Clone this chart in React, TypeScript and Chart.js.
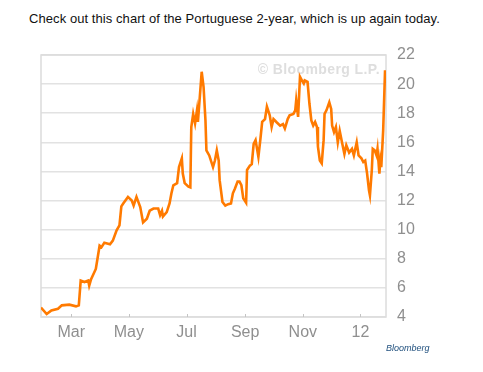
import React, { useEffect, useRef } from "react";
import { Chart, registerables } from "chart.js";

Chart.register(...registerables);

// Portuguese 2-year yield, day offsets from 28 Jan 2011 (day 0) to 28 Jan 2012 (day 365)
const dayOffsets = [
  0, 6, 11, 18, 22, 30, 37, 40, 42, 46, 50, 51, 53, 58, 62, 64, 67, 73, 76, 80, 83, 85, 87, 92, 96, 98,
  101, 105, 108, 112, 115, 119, 124, 126, 128, 129, 133, 136, 138, 140, 144, 146, 149, 150, 152, 156, 158,
  159, 161, 163, 165, 166, 168, 170, 172, 174, 175, 178, 182, 184, 186, 188, 189, 192, 195, 198, 201, 203,
  205, 208, 210, 212, 214, 217, 218, 221, 223, 225, 227, 230, 232, 234, 237, 239, 242, 244, 246, 249, 253,
  256, 258, 261, 263, 267, 269, 270, 272, 274, 276, 278, 279, 282, 284, 286, 288, 290, 292, 293, 295, 297,
  299, 300, 302, 305, 307, 308, 310, 312, 314, 316, 318, 321, 323, 326, 329, 331, 334, 336, 339, 341, 343,
  345, 347, 348, 350, 351, 353, 355, 356, 358, 359, 360, 362, 364,
];
const yieldValues = [
  4.65, 4.2, 4.45, 4.57, 4.8, 4.85, 4.73, 4.8, 6.5, 6.4, 6.5, 6.15, 6.6, 7.3, 8.9, 8.8, 9.1, 9.0, 9.25, 9.95,
  10.3, 11.6, 11.8, 12.25, 12.0, 11.65, 12.25, 11.55, 10.5, 10.75, 11.3, 11.45, 11.45, 11.0, 11.3, 10.9, 11.2,
  11.8, 12.5, 13.05, 13.2, 14.3, 14.9, 13.85, 13.2, 12.95, 12.9, 17.05, 17.95, 17.3, 18.2, 17.4, 19.1, 20.85,
  19.8, 17.5, 15.45, 15.1, 14.3, 14.75, 15.45, 14.75, 13.4, 11.9, 11.65, 11.75, 11.8, 12.5, 12.8, 13.3, 13.3,
  13.05, 12.15, 11.85, 14.1, 14.4, 14.5, 15.9, 16.15, 15.0, 16.15, 17.4, 17.6, 18.45, 17.85, 17.05, 17.6,
  17.4, 17.15, 17.25, 16.95, 17.6, 17.85, 17.95, 18.2, 18.9, 17.75, 20.5, 20.25, 20.05, 20.25, 20.15, 18.65,
  17.5, 17.15, 17.4, 17.05, 15.7, 14.75, 14.55, 16.15, 17.95, 18.2, 18.75, 18.3, 17.15, 16.7, 17.05, 16.0,
  16.8, 16.15, 15.2, 15.8, 15.3, 15.55, 15.1, 16.0, 15.1, 14.9, 14.65, 14.75, 13.85, 12.7, 12.35, 14.1, 15.55,
  15.45, 15.1, 15.55, 13.85, 14.75, 14.3, 16.8, 20.95,
];
const tickDays = [32, 93, 154, 216, 277, 338];
const tickLabels = ["Mar", "May", "Jul", "Sep", "Nov", "12"];
const yMin = 4;
const yMax = 22;
const yStep = 2;

const FONT = "'Liberation Sans', Arial, Helvetica, sans-serif";

const framePlugin = {
  id: "frame",
  beforeDatasetsDraw(chart: any) {
    const { ctx, chartArea: a, scales } = chart;
    ctx.save();
    ctx.strokeStyle = "#dcdcdc";
    ctx.lineWidth = 1.5;
    ctx.strokeRect(a.left, a.top, a.right - a.left, a.bottom - a.top);
    ctx.strokeStyle = "#c4c4c4";
    ctx.lineWidth = 1;
    tickDays.forEach((d) => {
      const x = Math.round(scales.x.getPixelForValue(d)) + 0.5;
      ctx.beginPath();
      ctx.moveTo(x, a.bottom);
      ctx.lineTo(x, a.bottom - 3);
      ctx.stroke();
    });
    ctx.font = `bold 14px ${FONT}`;
    (ctx as any).letterSpacing = "0.4px";
    ctx.fillStyle = "#dedede";
    ctx.textAlign = "right";
    ctx.textBaseline = "middle";
    ctx.fillText("© Bloomberg L.P.", a.right - 6, a.top + 15);
    ctx.restore();
  },
};

export default function App() {
  const ref = useRef<HTMLCanvasElement>(null);
  useEffect(() => {
    if (!ref.current) return;
    const data = dayOffsets.map((d, i) => ({ x: d, y: yieldValues[i] }));
    const chart = new Chart(ref.current, {
      type: "line",
      data: {
        datasets: [
          {
            data,
            borderColor: "#ff7a00",
            borderWidth: 2.6,
            pointRadius: 0,
            tension: 0,
            fill: false,
          },
        ],
      },
      options: {
        animation: false,
        responsive: false,
        events: [],
        plugins: { legend: { display: false }, tooltip: { enabled: false } },
        layout: { padding: { left: 41, top: 55, right: 52, bottom: 30 } },
        scales: {
          x: {
            type: "linear",
            min: 0,
            max: 365,
            grid: { display: false, drawTicks: false },
            border: { display: false },
            afterBuildTicks: (s: any) => {
              s.ticks = tickDays.map((v) => ({ value: v }));
            },
            afterFit: (s: any) => {
              s.height = 25;
            },
            ticks: {
              autoSkip: false,
              maxRotation: 0,
              padding: 6,
              color: "#8f8f8f",
              font: { size: 16, family: FONT },
              callback: (v: any) => tickLabels[tickDays.indexOf(Number(v))] ?? "",
            },
          },
          y: {
            type: "linear",
            position: "right",
            min: yMin,
            max: yMax,
            grid: { color: "#e2e2e2", lineWidth: 1.5, drawTicks: false },
            border: { display: false },
            afterFit: (s: any) => {
              s.width = 45;
            },
            ticks: {
              stepSize: yStep,
              padding: 11,
              color: "#8f8f8f",
              font: { size: 16, family: FONT },
            },
          },
        },
      },
      plugins: [framePlugin],
    });
    return () => chart.destroy();
  }, []);

  return (
    <div style={{ position: "absolute", left: 0, top: 0, width: 483, height: 372, background: "#fff" }}>
      <div
        style={{
          position: "absolute",
          left: 29,
          top: 11,
          fontFamily: FONT,
          fontSize: 13,
          lineHeight: "15px",
          letterSpacing: "0.07px",
          color: "#111",
          whiteSpace: "nowrap",
        }}
      >
        Check out this chart of the Portuguese 2-year, which is up again today.
      </div>
      <canvas ref={ref} width={483} height={372} style={{ position: "absolute", left: 0, top: 0 }} />
      <div
        style={{
          position: "absolute",
          left: 386,
          top: 343,
          fontFamily: FONT,
          fontSize: 9,
          fontStyle: "italic",
          lineHeight: "11px",
          color: "#1f4f7d",
          whiteSpace: "nowrap",
        }}
      >
        Bloomberg
      </div>
    </div>
  );
}
